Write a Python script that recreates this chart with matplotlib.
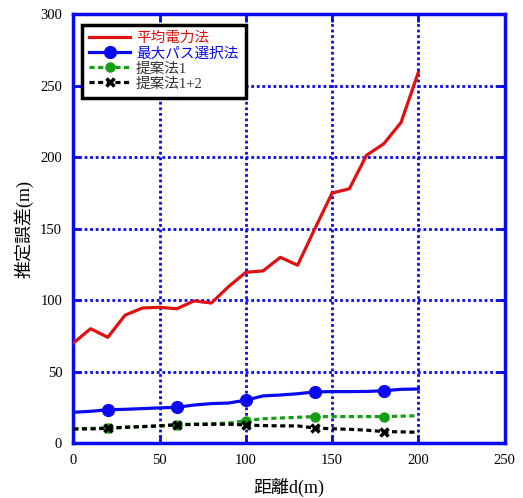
import matplotlib
matplotlib.use("Agg")
import matplotlib.pyplot as plt

plt.rcParams['font.family'] = ['Liberation Serif', 'Noto Sans CJK JP']

distance = [0, 10, 20, 30, 40, 50, 60, 70, 80, 90, 100,
            110, 120, 130, 140, 150, 160, 170, 180, 190, 200]
avg_power = [70, 80, 74, 89.5, 94.5, 95, 94, 99.5, 98, 109.5, 119.5,
             120.5, 130, 124.5, 150, 175, 178, 201.5, 209.5, 224.5, 259.5]
max_path = [21.5, 22.2, 23.3, 23.6, 24.1, 24.6, 25, 26.6, 27.6, 28, 30,
            33, 33.6, 34.5, 35.8, 36, 36, 36.1, 36.6, 37.6, 37.8]
prop1 = [10, 10.2, 10.6, 11, 11.5, 12, 12.8, 13.2, 13.5, 14, 15.6,
         17, 17.5, 18, 18.5, 18.5, 18.5, 18.5, 18.5, 18.8, 19.1]
prop12 = [9.8, 9.9, 10.3, 11, 11.5, 12, 12.8, 13, 13.1, 13.2, 12.6,
          12.2, 12, 12, 10.5, 10, 9.6, 9, 8, 7.8, 7.5]

labels = ['平均電力法', '最大パス選択法', '提案法1', '提案法1+2']
xticks = [0, 50, 100, 150, 200, 250]
yticks = [0, 50, 100, 150, 200, 250, 300]

RED = '#e01010'
BLUE = '#0a0af0'
GREEN = '#12a012'

fig = plt.figure(figsize=(5.23, 4.98), dpi=100)
ax = fig.add_axes([0.1402, 0.1104, 0.8246, 0.8605])

ax.plot(distance, avg_power, color=RED, lw=2.3, label=labels[0], zorder=3)
ax.plot(distance, max_path, color=BLUE, lw=2.3, marker='o', ms=8.5,
        markevery=slice(2, None, 4), label=labels[1], zorder=3)
ax.plot(distance, prop1, color=GREEN, lw=2.3, ls=(0, (1.6, 1.1)), marker='o', ms=6.5,
        markevery=slice(2, None, 4), label=labels[2], zorder=3)
ax.plot(distance, prop12, color='black', lw=2.3, ls=(0, (1.6, 1.1)), marker='x', ms=6,
        mew=2.5, markevery=slice(2, None, 4), label=labels[3], zorder=4)

ax.set_xlim(0, 250)
ax.set_ylim(0, 300)
ax.set_xticks(xticks)
ax.set_yticks(yticks)
ax.grid(True, color=BLUE, ls=(0, (1, 1)), lw=2.0)
ax.set_axisbelow(True)
ax.tick_params(direction='in', length=6, width=2, color=BLUE,
               top=True, right=True, labelsize=10.5, pad=8)
for s in ax.spines.values():
    s.set_color(BLUE)
    s.set_linewidth(2.5)

ax.set_xlabel('距離d(m)', fontsize=13, labelpad=8)
ax.set_ylabel('推定誤差(m)', fontsize=13, labelpad=5)

leg = ax.legend(loc='upper left', bbox_to_anchor=(0.02, 0.976), borderaxespad=0,
                fontsize=10.5, labelspacing=0.12, handlelength=2.8, handletextpad=0.4,
                borderpad=0.5, fancybox=False, framealpha=1, edgecolor='black')
leg.get_frame().set_linewidth(2.5)
cols = [RED, BLUE, '#333333', '#333333']
for t, c in zip(leg.get_texts(), cols):
    t.set_color(c)

fig.savefig('out.png', dpi=100)
